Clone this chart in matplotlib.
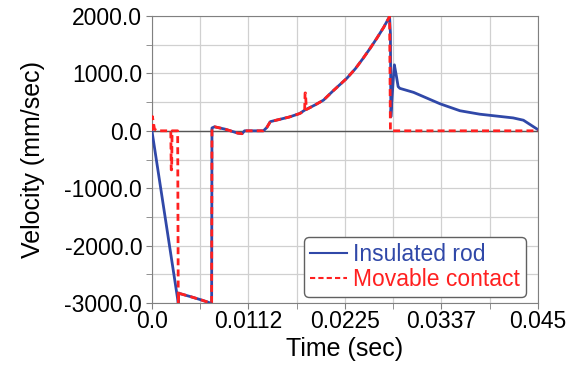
import numpy as np
import matplotlib
matplotlib.use("Agg")
import matplotlib.pyplot as plt
from matplotlib.ticker import MultipleLocator

plt.rcParams['font.family'] = ['Liberation Sans', 'DejaVu Sans']

# insulated rod velocity
rod_t = [0.0, 0.00307, 0.0031, 0.0045, 0.0056, 0.0068, 0.00696, 0.0070, 0.0073,
         0.0085, 0.0100, 0.0105, 0.0108, 0.0130, 0.0134, 0.0138, 0.0149, 0.0160,
         0.0172, 0.0178, 0.0190, 0.0200, 0.0210, 0.0227, 0.0237, 0.0246, 0.0254,
         0.0262, 0.0270, 0.0277, 0.0278, 0.02785, 0.0280, 0.0282, 0.02826, 0.0285,
         0.0287, 0.0289, 0.0305, 0.0336, 0.0359, 0.0382, 0.0421, 0.0433, 0.0450]
rod_v = [0, -3000, -2830, -2890, -2940, -3000, -3000, 50, 70,
         30, -40, -50, 0, 0, 60, 160, 200, 240,
         300, 360, 450, 535, 680, 913, 1080, 1260, 1430,
         1610, 1800, 1990, 1700, 244, 600, 1050, 1150, 950,
         770, 740, 670, 470, 350, 290, 225, 185, 20]

# movable contact velocity
cont_t = [0.0, 0.00005, 0.0003, 0.0006, 0.0022, 0.00225, 0.0023, 0.00235, 0.0030,
          0.00307, 0.0031, 0.0045, 0.0056, 0.0068, 0.00696, 0.0070, 0.0073,
          0.0085, 0.0100, 0.0105, 0.0108, 0.0130, 0.0134, 0.0138, 0.0149, 0.0160,
          0.0172, 0.0178, 0.01785, 0.0179, 0.0180, 0.0190, 0.0200, 0.0210, 0.0227,
          0.0237, 0.0246, 0.0254, 0.0262, 0.0270, 0.0277, 0.0278, 0.0450]
cont_v = [0, 250, 30, 0, 0, -680, -680, 0, 0,
          -3000, -2830, -2890, -2940, -3000, -3000, 50, 70,
          30, -40, -50, 0, 0, 60, 160, 200, 240,
          300, 340, 660, 660, 370, 450, 535, 680, 913,
          1080, 1260, 1430, 1610, 1800, 1990, 0, 0]

xticks = [0.0, 0.01125, 0.0225, 0.03375, 0.045]
xtick_labels = ['0.0', '0.0112', '0.0225', '0.0337', '0.045']

fig = plt.figure(figsize=(5.69, 3.65), dpi=100)
ax = fig.add_axes([0.267, 0.170, 0.6785, 0.786])

ax.plot(rod_t, rod_v, color='#3048a8', lw=2.0, label='Insulated rod', zorder=3)
ax.plot(cont_t, cont_v, color='#ff2020', lw=2.0, ls=(0, (2.5, 1.5)),
        label='Movable contact', zorder=4)

ax.set_xlim(0, 0.045)
ax.set_ylim(-3000, 2000)
ax.set_xticks(xticks)
ax.set_xticklabels(xtick_labels)
ax.xaxis.set_minor_locator(MultipleLocator(0.045 / 8))
ax.yaxis.set_major_locator(MultipleLocator(1000))
ax.yaxis.set_minor_locator(MultipleLocator(500))
ax.yaxis.set_major_formatter(matplotlib.ticker.FormatStrFormatter('%.1f'))

ax.grid(which='both', color='#d0d0d0', lw=0.9)
ax.axhline(0, color='#555555', lw=1.0, zorder=2)
for s in ax.spines.values():
    s.set_color('#808080')
ax.tick_params(which='both', direction='out', color='#808080', labelsize=16.5,
               length=4)
ax.tick_params(axis='y', pad=3)
ax.tick_params(axis='x', pad=1)

ax.set_xlabel('Time (sec)', fontsize=18, labelpad=3)
ax.set_ylabel('Velocity (mm/sec)', fontsize=18, labelpad=14)

leg = ax.legend(loc='lower right', bbox_to_anchor=(0.969, 0.021), fontsize=16.5,
                labelcolor='linecolor', handlelength=1.6, handletextpad=0.3,
                borderpad=0.25, labelspacing=0.1, borderaxespad=0,
                fancybox=True, framealpha=1)
leg.get_frame().set_edgecolor('#606060')
for ln in leg.get_lines():
    ln.set_linewidth(1.5)

fig.savefig('out.png', dpi=100)
